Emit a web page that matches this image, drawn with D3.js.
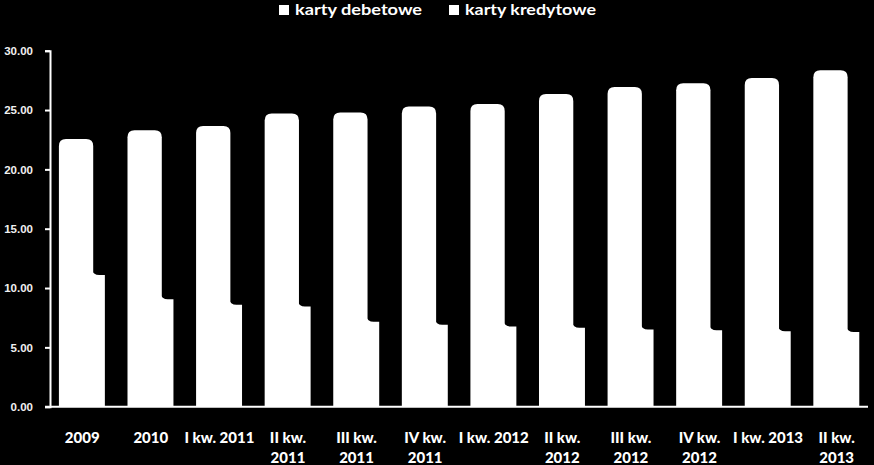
<!DOCTYPE html>
<html><head><meta charset="utf-8">
<script src="https://cdn.jsdelivr.net/npm/d3@7/dist/d3.min.js"></script>
<style>html,body{margin:0;padding:0;background:#000;}svg{display:block;}</style>
</head><body>
<script>
const categories = ["2009","2010","I kw. 2011","II kw. 2011","III kw. 2011","IV kw. 2011","I kw. 2012","II kw. 2012","III kw. 2012","IV kw. 2012","I kw. 2013","II kw. 2013"];
const categoryLines = [["2009"],["2010"],["I kw. 2011"],["II kw.","2011"],["III kw.","2011"],["IV kw.","2011"],["I kw. 2012"],["II kw.","2012"],["III kw.","2012"],["IV kw.","2012"],["I kw. 2013"],["II kw.","2013"]];
const seriesNames = ["karty debetowe","karty kredytowe"];
const debetowe = [22.55, 23.3, 23.65, 24.7, 24.8, 25.3, 25.5, 26.35, 26.95, 27.25, 27.7, 28.35];
const kredytowe = [11.1, 9.05, 8.6, 8.45, 7.15, 6.9, 6.75, 6.65, 6.5, 6.45, 6.35, 6.3];
const yTicks = [0,5,10,15,20,25,30];

const W = 874, H = 465;
const svg = d3.select("body").append("svg").attr("width", W).attr("height", H);
svg.append("rect").attr("width", W).attr("height", H).attr("fill", "#000");

const x = d3.scaleBand().domain(categories).range([50, 873]).padding(0);
const y = d3.scaleLinear().domain([0, 30]).range([406.7, 50.7]);
const bw = x.bandwidth();

// credit bars (partially hidden behind debit bars, with fillet at junction)
const f = 6;
svg.append("g").selectAll("path").data(kredytowe).join("path")
  .attr("fill", "#fff")
  .attr("d", (d, i) => {
    const x0 = x(categories[i]) + bw * 0.63 - 2, x1 = x(categories[i]) + bw * 0.80;
    const yt = y(d), y0 = y(0);
    return `M${x0},${y0}L${x0},${yt - f}Q${x0 + 2},${yt} ${x0 + 2 + f},${yt}L${x1},${yt}L${x1},${y0}Z`;
  });

// debit bars (rounded top)
const r = 7;
svg.append("g").selectAll("path").data(debetowe).join("path")
  .attr("fill", "#fff")
  .attr("d", (d, i) => {
    const x0 = x(categories[i]) + bw * 0.13, x1 = x0 + bw * 0.5;
    const yt = y(d), y0 = y(0);
    return `M${x0},${y0}L${x0},${yt + r}Q${x0},${yt} ${x0 + r},${yt}L${x1 - r},${yt}Q${x1},${yt} ${x1},${yt + r}L${x1},${y0}Z`;
  });

// y axis
const yAxis = svg.append("g").attr("transform", "translate(50,0)")
  .call(d3.axisLeft(y).tickValues(yTicks).tickFormat(d3.format(".2f")).tickSize(5).tickPadding(12));
yAxis.select(".domain").attr("stroke", "#fff").attr("stroke-width", 2);
yAxis.selectAll(".tick line").attr("stroke", "#fff").attr("stroke-width", 2);
yAxis.selectAll(".tick text").attr("fill", "#f0f0f0")
  .style("font-family", "Liberation Sans, Arial, sans-serif").style("font-weight", "bold").style("font-size", "11.5px");

// x axis line
svg.append("line").attr("x1", 45).attr("x2", 868).attr("y1", y(0)).attr("y2", y(0))
  .attr("stroke", "#fff").attr("stroke-width", 2);

// x labels
const xl = svg.append("g").selectAll("text").data(categoryLines).join("text")
  .attr("text-anchor", "middle")
  .attr("fill", "#fff")
  .style("font-family", "Lato, sans-serif").style("font-weight", "900").style("font-size", "15px")
  .attr("x", (d, i) => x(categories[i]) + bw * 0.47)
  .attr("y", 443);
xl.selectAll("tspan").data(d => d).join("tspan")
  .attr("x", function() { return d3.select(this.parentNode).attr("x"); })
  .attr("dy", (d, j) => j === 0 ? 0 : 20)
  .text(d => d);

// legend
const legX = [279, 449], legW = [127, 131];
const leg = svg.append("g");
seriesNames.forEach((n, i) => {
  leg.append("rect").attr("x", legX[i]).attr("y", 5).attr("width", 10).attr("height", 10).attr("fill", "#fff");
  leg.append("text").attr("x", legX[i] + 16).attr("y", 15).attr("fill", "#fff")
    .style("font-family", "Lato, sans-serif").style("font-weight", "bold").style("font-size", "15px")
    .attr("textLength", legW[i]).attr("lengthAdjust", "spacingAndGlyphs")
    .text(n);
});
</script>
</body></html>
